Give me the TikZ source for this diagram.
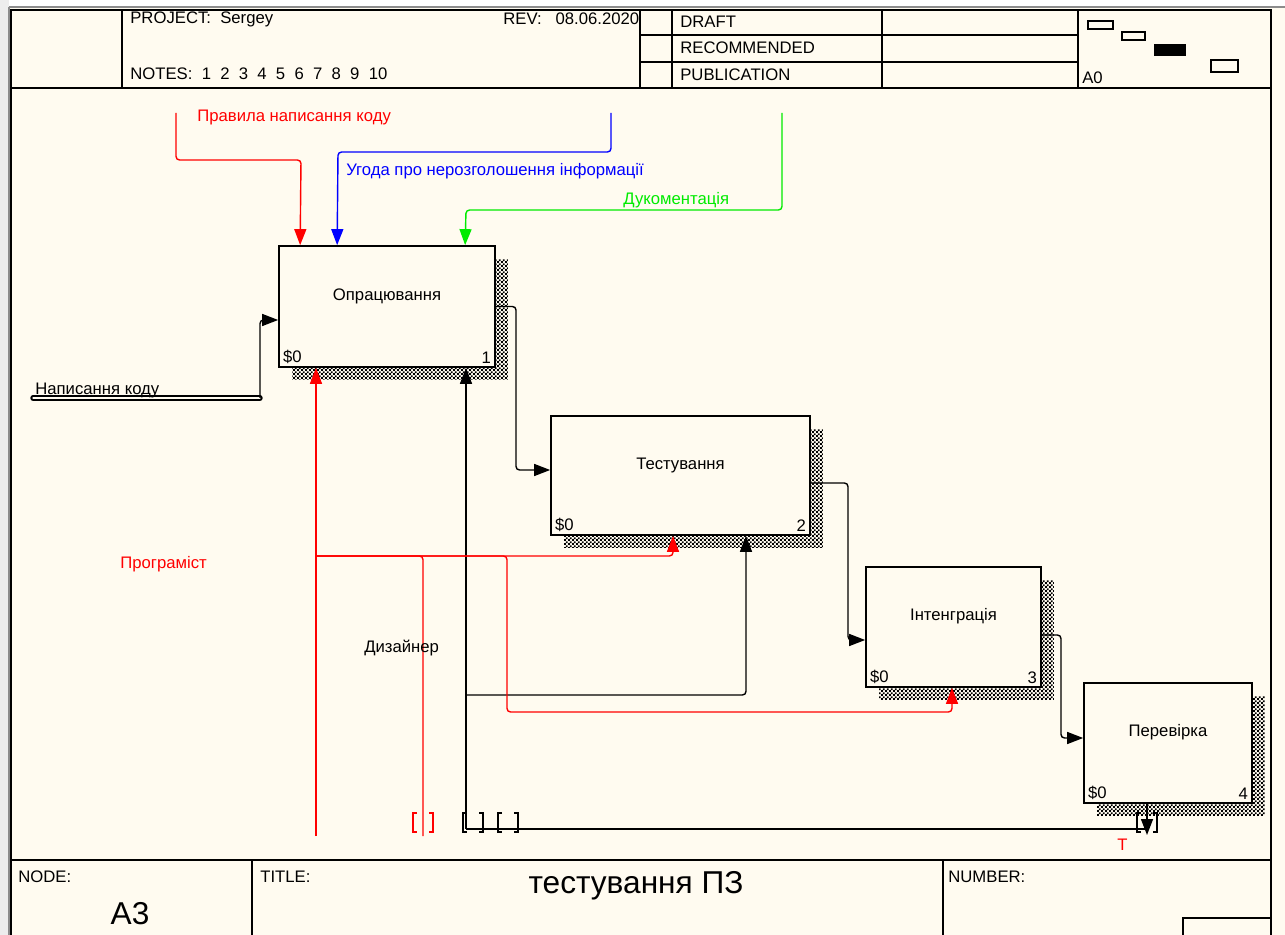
\documentclass[tikz,border=0pt]{standalone}
\usepackage{fontspec}
\setmainfont{Liberation Sans}
\usepackage{xcolor}
\usetikzlibrary{arrows.meta,calc,shadows,patterns}
\definecolor{bgc}{RGB}{255,251,240}
\definecolor{idefred}{RGB}{255,0,0}
\definecolor{idefblue}{RGB}{0,0,255}
\definecolor{idefgreen}{RGB}{0,235,0}
\pgfdeclarepatternformonly{idefhatch}{\pgfpointorigin}{\pgfpoint{2.2pt}{2.2pt}}{\pgfpoint{2.2pt}{2.2pt}}{%
  \pgfpathrectangle{\pgfpointorigin}{\pgfpoint{1.1pt}{1.1pt}}%
  \pgfpathrectangle{\pgfpoint{1.1pt}{1.1pt}}{\pgfpoint{1.1pt}{1.1pt}}%
  \pgfusepath{fill}}
\newcommand\txtsz{\fontsize{9.5}{11}\selectfont}
\newcommand\bigsz{\fontsize{18}{21}\selectfont}
\tikzset{
  >={Triangle[length=3.2mm,width=2.4mm]},
  func/.style={draw, line width=1pt, fill=bgc, font=\txtsz, text height=2mm, text depth=4.5mm,
    general shadow={shadow xshift=0.26cm, shadow yshift=-0.26cm, pattern=idefhatch, pattern color=black},
    append after command={[draw, line width=0.6pt] ([yshift=-5pt]\tikzlastnode.north west) -- ([xshift=5pt]\tikzlastnode.north west)}},
  cost/.style={font=\txtsz, inner xsep=2.5pt, inner ysep=2pt, text height=, text depth=},
  flow/.style={->, line width=0.8pt, rounded corners=2pt},
  pipe/.style={line width=0.8pt, rounded corners=2pt},
  dbl/.style={draw, line width=1.2pt, double=bgc, double distance=0.7pt, line cap=round},
  arrlbl/.style={font=\txtsz, anchor=west, inner sep=0pt},
  hdr/.style={font=\txtsz, anchor=west, inner sep=0pt},
  frm/.style={line width=1pt},
  tunnel/.pic={\draw[line width=0.8pt] (-6,-10) -- (-10,-10) -- (-10,9) -- (-6,9) (6,-10) -- (10,-10) -- (10,9) -- (6,9);},
}

\begin{document}
\begin{tikzpicture}[x=0.02cm, y=-0.02cm]
  \useasboundingbox (0,0) rectangle (1285,935);
  % sheet
  \fill[bgc] (0,0) rectangle (1285,935);
  \fill[black!7] (0,0) rectangle (9,935);
  \fill[white] (9,0) rectangle (1285,7);
  \draw[black!45, line width=1pt] (9,7) -- (1285,7);
  \draw[black!45, line width=1pt] (9,7) -- (9,935);
  \draw[frm] (11,935) -- (11,10) -- (1271,10) -- (1271,935);
  \draw[frm] (11,88) -- (1271,88);
  \draw[frm] (11,860) -- (1271,860);
  % header
  \draw[frm] (122,10) -- (122,88) (640,10) -- (640,88) (672,10) -- (672,88)
    (882,10) -- (882,88) (1078,10) -- (1078,88);
  \draw[frm] (640,35) -- (1078,35) (640,62) -- (1078,62);
  \node[hdr] (project) at (130,19) {PROJECT:\ \ Sergey};
  \node[hdr] (rev) at (503,19) {REV:\ \ \ 08.06.2020};
  \node[hdr] (notes) at (130,74) {NOTES:\ \ 1\ \ 2\ \ 3\ \ 4\ \ 5\ \ 6\ \ 7\ \ 8\ \ 9\ \ 10};
  \node[hdr] (draft) at (680,22) {DRAFT};
  \node[hdr] (recom) at (680,48) {RECOMMENDED};
  \node[hdr] (publ) at (680,75) {PUBLICATION};
  \node[hdr] (ctx) at (1082,78) {A0};
  \draw[line width=0.8pt] (1088,21) rectangle (1113,29) (1122,32) rectangle (1145,40) (1211,60) rectangle (1238,72);
  \fill (1154,44) rectangle (1186,56);
  % footer
  \draw[frm] (252,860) -- (252,935) (943,860) -- (943,935);
  \draw[frm] (1183,935) |- (1271,918);
  \node[hdr] (nodelbl) at (18,877) {NODE:};
  \node[font=\bigsz] (nodeno) at (130,914) {A3};
  \node[hdr] (titlelbl) at (260,877) {TITLE:};
  \node[font=\bigsz] (title) at (636,886) {тестування ПЗ};
  \node[hdr] (numlbl) at (948,877) {NUMBER:};

  % functions
  \node[func, minimum width=4.32cm, minimum height=2.42cm,
    label={[cost,anchor=south west]south west:\$0}, label={[cost,anchor=south east]south east:1}] (opr) at (387,306.5) {Опрацювання};
  \node[func, minimum width=5.18cm, minimum height=2.38cm,
    label={[cost,anchor=south west]south west:\$0}, label={[cost,anchor=south east]south east:2}] (test) at (680.5,475.5) {Тестування};
  \node[func, minimum width=3.5cm, minimum height=2.4cm,
    label={[cost,anchor=south west]south west:\$0}, label={[cost,anchor=south east]south east:3}] (integ) at (953.5,627) {Інтенграція};
  \node[func, minimum width=3.36cm, minimum height=2.4cm,
    label={[cost,anchor=south west]south west:\$0}, label={[cost,anchor=south east]south east:4}] (perev) at (1168,743) {Перевірка};

  % free ends
  \coordinate (srcRule) at (176,113);
  \coordinate (srcNda) at (611,113);
  \coordinate (srcDoc) at (782,113);
  \coordinate (srcCode) at (33,398);
  \coordinate (codeEnd) at (260,398);
  \coordinate (progA) at (316,836);
  \coordinate (progB) at (423,836);
  \coordinate (progJ) at (316,556);
  \coordinate (desA) at (466,829);
  \coordinate (desJ) at (466,695);
  \coordinate (perOut) at (1147,835);

  % controls
  \draw[flow, idefred] (srcRule) |- (301,160) -- ($(opr.north west)+(22,0)$);
  \draw[flow, idefblue] (srcNda) |- (338,152) -- ($(opr.north west)+(59,0)$);
  \draw[flow, idefgreen] (srcDoc) |- (466,210) -- ($(opr.north west)+(187,0)$);
  % input and outputs
  \draw[dbl] (srcCode) -- (codeEnd);
  \draw[flow] (codeEnd) |- ($(opr.west)+(0,13.5)$);
  \draw[flow] (opr.east) -| (516,400) |- ($(test.west)+(0,-5.5)$);
  \draw[flow] ($(test.east)+(0,7.5)$) -| (848,560) |- ($(integ.west)+(0,13)$);
  \draw[flow] ($(integ.east)+(0,8)$) -| (1061,690) |- ($(perev.west)+(0,-5)$);
  \draw[flow] ($(perev.south)+(-21,0)$) -- (perOut);
  \draw[pipe] (perOut |- desA) -- (desA);
  % mechanisms
  \draw[flow] (desA) -- ($(opr.south)+(79,0)$);
  \draw[flow] (desJ) -| ($(test.south)+(65.5,0)$);
  \draw[flow, idefred] (progA) -- ($(opr.south)+(-71,0)$);
  \draw[flow, idefred] (progJ) -| ($(test.south)+(-7.5,0)$);
  \draw[pipe, idefred] (progB) |- (progJ);
  \draw[flow, idefred] (progJ) -| (507,712) -| ($(integ.south)+(-1.5,0)$);
  % tunnels
  \pic[idefred] at (423,823) {tunnel};
  \pic at (473,823) {tunnel};
  \pic at (508,823) {tunnel};
  \pic at (1147,823) {tunnel};

  % arrow labels
  \node[arrlbl, text=idefred] (lRule) at (197,117) {Правила написання коду};
  \node[arrlbl, text=idefblue] (lNda) at (346,171) {Угода про нерозголошення інформації};
  \node[arrlbl, text=idefgreen] (lDoc) at (623,200) {Дукоментація};
  \node[arrlbl, anchor=base west] (lCode) at (35,395) {Написання коду};
  \node[arrlbl, text=idefred] (lProg) at (120,564) {Програміст};
  \node[arrlbl] (lDes) at (364,648) {Дизайнер};
  \node[arrlbl, text=idefred] (lT) at (1117,845) {T};
\end{tikzpicture}
\end{document}
